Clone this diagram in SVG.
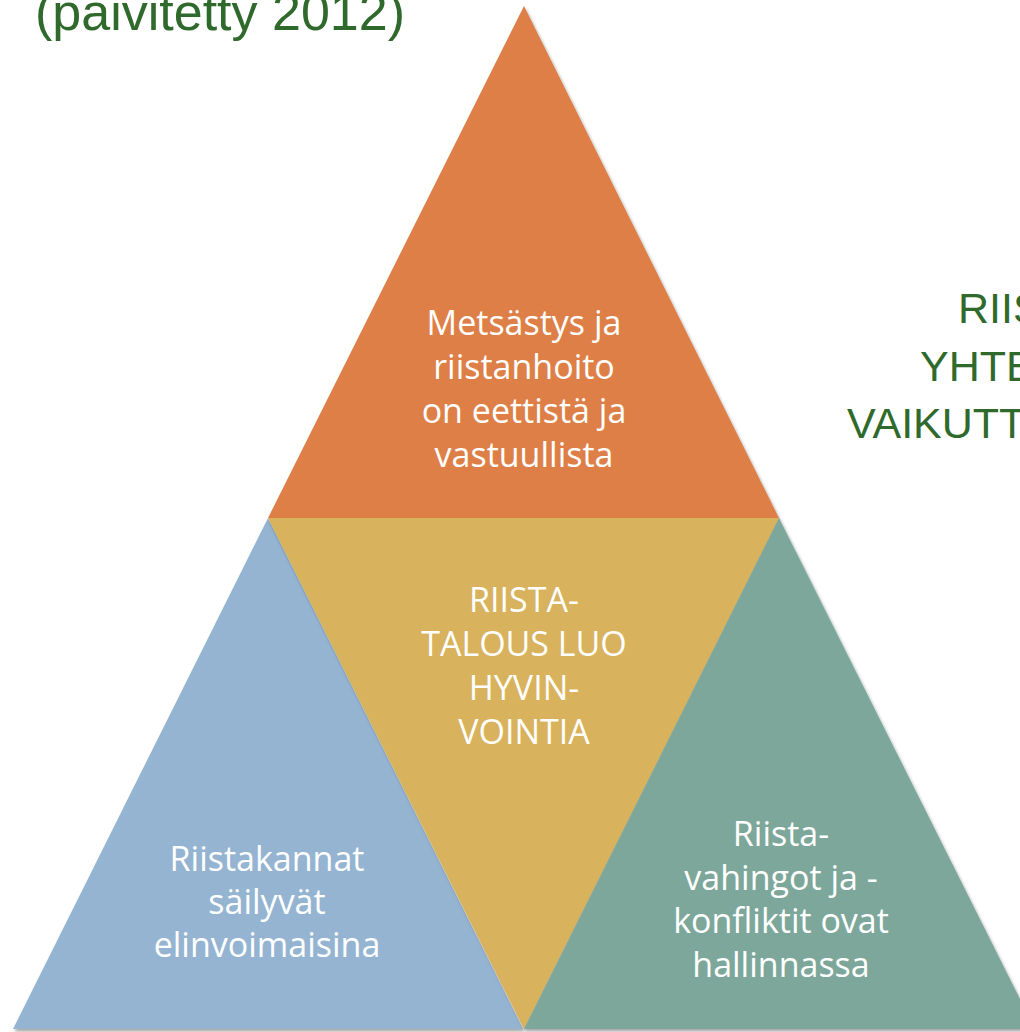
<svg xmlns="http://www.w3.org/2000/svg" width="1020" height="1032" viewBox="0 0 1020 1032">
<defs>
<filter id="sh" x="-10%" y="-10%" width="120%" height="120%">
<feDropShadow dx="1.5" dy="2.5" stdDeviation="1.8" flood-color="#000" flood-opacity="0.35"/>
</filter>
<style>
.lbl{font-family:"Open Sans","Noto Sans","Liberation Sans",sans-serif;font-size:34px;fill:#fff;text-anchor:middle}
.ttl{font-family:"Liberation Sans",Arial,sans-serif;fill:#2F6A2C}
</style>
</defs>
<rect width="1020" height="1032" fill="#fff"/>
<text class="ttl" x="35" y="30" font-size="52">(päivitetty 2012)</text>
<g class="ttl" font-size="43">
<text x="958" y="323">RIIS</text>
<text x="920" y="381">YHTE</text>
<text x="847" y="438">VAIKUTT</text>
</g>
<g id="top">
<polygon points="524,6 268,518 779,518" fill="#DD7F47" filter="url(#sh)"/>
<text class="lbl"><tspan x="524" y="335">Metsästys ja</tspan><tspan x="524" y="379">riistanhoito</tspan><tspan x="524" y="423">on eettistä ja</tspan><tspan x="524" y="467">vastuullista</tspan></text>
</g>
<g id="left">
<polygon points="268,518 13,1029 523,1029" fill="#94B4D2" filter="url(#sh)"/>
<text class="lbl"><tspan x="267" y="871">Riistakannat</tspan><tspan x="267" y="914">säilyvät</tspan><tspan x="267" y="957">elinvoimaisina</tspan></text>
</g>
<g id="middle">
<polygon points="268,518 779,518 524,1029" fill="#D8B25C" filter="url(#sh)"/>
<text class="lbl"><tspan x="524" y="612">RIISTA-</tspan><tspan x="524" y="656">TALOUS LUO</tspan><tspan x="524" y="700">HYVIN-</tspan><tspan x="524" y="744">VOINTIA</tspan></text>
</g>
<g id="right">
<polygon points="779,518 524,1029 1035,1029" fill="#7BA79A" filter="url(#sh)"/>
<text class="lbl"><tspan x="781" y="846">Riista-</tspan><tspan x="781" y="890">vahingot ja -</tspan><tspan x="781" y="933">konfliktit ovat</tspan><tspan x="781" y="977">hallinnassa</tspan></text>
</g>
<g id="connectors"></g>
</svg>
